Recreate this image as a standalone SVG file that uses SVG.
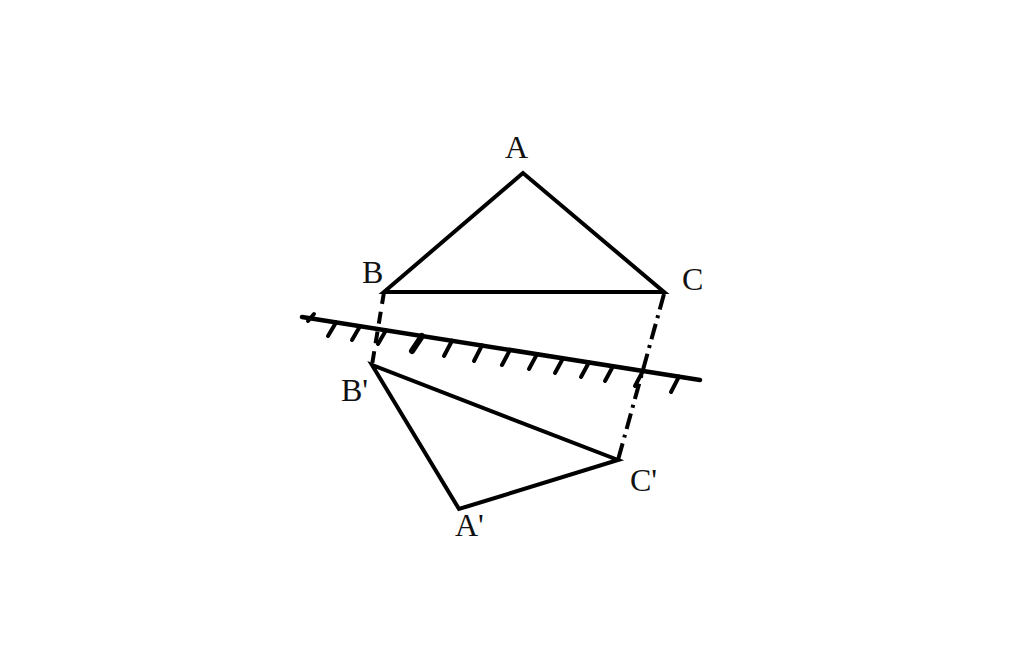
<svg xmlns="http://www.w3.org/2000/svg" width="1024" height="663" viewBox="0 0 1024 663">
<style>
.edge{fill:none;stroke:#000;stroke-width:4;stroke-linejoin:miter;stroke-linecap:round}
.mirror{stroke:#000;stroke-width:4.5;stroke-linecap:round}
.tick{stroke:#000;stroke-width:4;stroke-linecap:round}
.dash{stroke:#000;stroke-width:4;stroke-dasharray:12 8}
.dashdot{stroke:#000;stroke-width:4;stroke-dasharray:16 6 3 6}
text{font-family:"Liberation Serif","DejaVu Serif",serif;font-size:32px;fill:#111}
</style>
<rect width="1024" height="663" fill="#fff"/>
<g id="mirror">
<line class="mirror" x1="302" y1="317" x2="700" y2="380"/>
<g id="hatch">
<line class="tick" x1="314" y1="314" x2="308" y2="321"/>
<line class="tick" x1="336" y1="322.4" x2="328" y2="336"/>
<line class="tick" x1="360" y1="326.2" x2="352" y2="340"/>
<line class="tick" x1="386" y1="330.3" x2="378" y2="344"/>
<line class="tick" x1="422" y1="336" x2="412" y2="351" style="stroke-width:6"/>
<line class="tick" x1="452" y1="340.7" x2="444" y2="356"/>
<line class="tick" x1="482" y1="345.4" x2="474" y2="361"/>
<line class="tick" x1="510" y1="349.9" x2="502" y2="365"/>
<line class="tick" x1="537" y1="354.1" x2="529" y2="369"/>
<line class="tick" x1="563" y1="358.2" x2="555" y2="373"/>
<line class="tick" x1="589" y1="362.3" x2="581" y2="377"/>
<line class="tick" x1="613" y1="366.2" x2="605" y2="381"/>
<line class="tick" x1="643" y1="370.9" x2="635" y2="386"/>
<line class="tick" x1="679" y1="376.6" x2="671" y2="392"/>
</g>
</g>
<g id="connectors">
<line class="dash" x1="384" y1="292" x2="372" y2="365"/>
<line class="dashdot" x1="664" y1="294" x2="618" y2="460"/>
</g>
<g id="triangle-ABC">
<polygon class="edge" points="523,173 384,292 664,292"/>
</g>
<g id="triangle-A1B1C1">
<polygon class="edge" points="372,365 459,509 618,460"/>
</g>
<g id="labels">
<text x="505" y="158">A</text>
<text x="362" y="283">B</text>
<text x="682" y="290">C</text>
<text x="341" y="401">B'</text>
<text x="630" y="491">C'</text>
<text x="455" y="536">A'</text>
</g>
</svg>
